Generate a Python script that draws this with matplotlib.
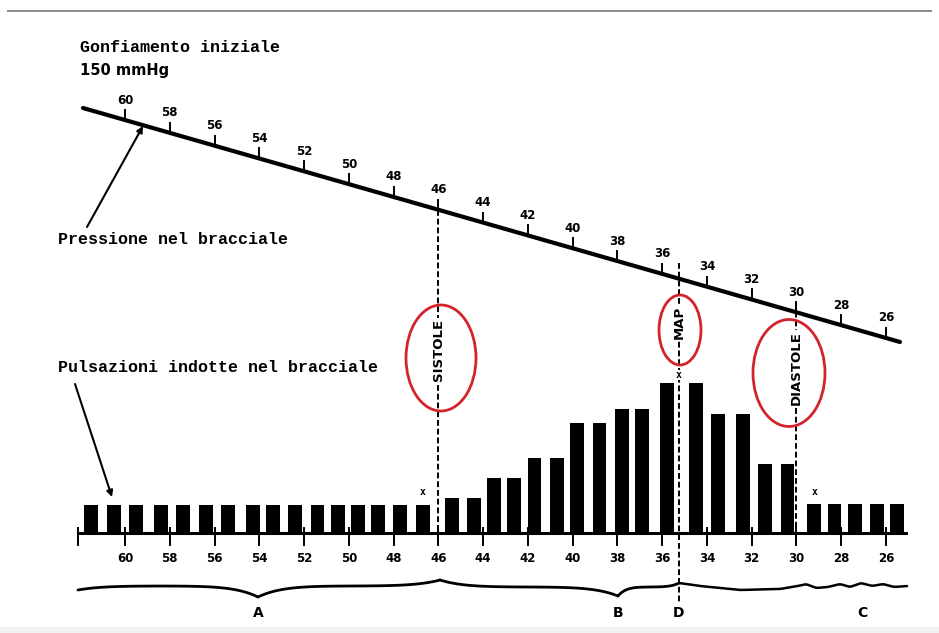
import numpy as np
import matplotlib.pyplot as plt
from matplotlib.patches import Ellipse

# cuff pressure (mmHg) at each pulse and its height
pulse_p = [61.5, 60.5, 59.5, 58.4, 57.4, 56.4, 55.4, 54.3, 53.4, 52.4, 51.4,
           50.5, 49.6, 48.7, 47.7, 46.7, 45.4, 44.4, 43.5, 42.6, 41.7, 40.7,
           39.8, 38.8, 37.8, 36.9, 35.8, 34.5, 33.5, 32.4, 31.4, 30.4, 29.2,
           28.3, 27.4, 26.4, 25.5]
pulse_amp = [28, 28, 28, 28, 28, 28, 28, 28, 28, 28, 28, 28, 28, 28, 28, 28,
             35, 35, 55, 55, 75, 75, 110, 110, 124, 124, 150, 150,
             119, 119, 69, 69, 29, 29, 29, 29, 29]

# scale ticks (same on the cuff line and on the bottom axis)
scale_p = [60, 58, 56, 54, 52, 50, 48, 46, 44, 42, 40, 38, 36, 34, 32, 30, 28, 26]
scale_labels = ['60', '58', '56', '54', '52', '50', '48', '46', '44', '42',
                '40', '38', '36', '34', '32', '30', '28', '26']

systolic = 46
map_p = 35.25
diastolic = 30
marked_p = [46.7, 35.25, 29.2]   # the little "x" marks
marked_h = [41, 158, 41]

W, H = 939, 633
K = 22.38      # pixels per mmHg
X60 = 125      # pixel column of 60 mmHg
BASE = 533     # pixel row of the pulse baseline


def px(x):
    return 60 - (x - X60) / K


def py(y):
    return BASE - y


def cuff_y(p):
    # sloping "pressione nel bracciale" line
    return py(108) - (px(83) - p) * 0.2864 * K


fig = plt.figure(figsize=(W / 100, H / 100), dpi=100)
ax = fig.add_axes([0, 0, 1, 1])
ax.set_xlim(px(0), px(W))
ax.set_ylim(py(H), py(0))
ax.axis('off')

mono = dict(family='Liberation Mono', fontweight='bold', fontsize=12)
num = dict(family='DejaVu Sans', fontweight='bold', fontsize=8.5)

# frame bits of the screenshot
ax.plot([px(8), px(931)], [py(11), py(11)], color='#8a8a8a', lw=1.4)
ax.axhspan(py(H), py(627), color='#f2f2f2', lw=0)

# texts
ax.text(px(80), py(47), 'Gonfiamento iniziale', va='center', ha='left', **mono)
ax.text(px(80), py(71), '150 mmHg', va='center', ha='left',
        family='DejaVu Sans', fontweight='bold', fontsize=10.5)
ax.text(px(58), py(240), 'Pressione nel bracciale', va='center', ha='left', **mono)
ax.text(px(58), py(368), 'Pulsazioni indotte nel bracciale', va='center', ha='left', **mono)

# sloping cuff pressure line
p_a, p_b = px(83), px(900)
ax.plot([p_a, p_b], [cuff_y(p_a), cuff_y(p_b)], color='k', lw=3, solid_capstyle='round')
for p, lab in zip(scale_p, scale_labels):
    y0 = cuff_y(p)
    ax.plot([p, p], [y0, y0 + 10], color='k', lw=1.4)
    ax.text(p, y0 + 20, lab, ha='center', va='center', **num)

arrow = dict(arrowstyle='-|>', color='k', lw=1.5, mutation_scale=9, shrinkA=0, shrinkB=0)
ax.annotate('', xy=(px(143), py(126)), xytext=(px(87), py(227)), arrowprops=arrow)
ax.annotate('', xy=(px(112), py(497)), xytext=(px(75), py(384)), arrowprops=arrow)

# pulses
ax.bar(pulse_p, pulse_amp, width=0.62, color='k', zorder=2)
for p, h in zip(marked_p, marked_h):
    ax.text(p, h, 'x', ha='center', va='center', fontsize=7, fontweight='bold',
            family='DejaVu Sans Mono', zorder=6,
            bbox=dict(facecolor='white', edgecolor='none', pad=0.2))

# bottom axis
ax.plot([px(78), px(906)], [0, 0], color='k', lw=2.2, zorder=3)
for p in [px(78)] + scale_p:
    ax.plot([p, p], [5, -12], color='k', lw=1.4, zorder=3)
for p, lab in zip(scale_p, scale_labels):
    ax.text(p, py(559), lab, ha='center', va='center', **num)

# dashed guide lines
dash = dict(color='k', lw=1.4, ls=(0, (3, 1.5)), zorder=3)
ax.plot([systolic, systolic], [cuff_y(systolic), py(545)], **dash)
ax.plot([map_p, map_p], [cuff_y(map_p) + 16, py(603)], **dash)
ax.plot([diastolic, diastolic], [cuff_y(diastolic) + 9, py(545)], **dash)

lab = dict(rotation=90, ha='center', va='center', family='DejaVu Sans',
           fontweight='bold', fontsize=9.5, zorder=5,
           bbox=dict(facecolor='white', edgecolor='none', pad=0.5))
ax.text(systolic, py(350), 'SISTOLE', **lab)
ax.text(map_p, py(322), 'MAP', **lab)
ax.text(diastolic, py(368), 'DIASTOLE', **lab)

red = '#d3232b'
ax.add_patch(Ellipse((px(441), py(358)), 70 / K, 106, fill=False, ec=red, lw=2, zorder=6))
ax.add_patch(Ellipse((px(680), py(330)), 42 / K, 70, fill=False, ec=red, lw=2, zorder=6))
ax.add_patch(Ellipse((px(789), py(373)), 72 / K, 107, fill=False, ec=red, lw=2, zorder=6))


# curly braces under the axis
def brace_half(x_end, y_end, x_tip, y_tip, y_flat, m=8):
    s = np.linspace(0, 1, 120)
    x = x_end + (x_tip - x_end) * s
    y = y_flat + (y_end - y_flat) * (1 - s) ** m + (y_tip - y_flat) * s ** m
    return px(x), py(y)


halves = [(78, 590, 258, 597, 586), (440, 580, 258, 597, 586),
          (440, 580, 618, 596, 587), (679, 583, 618, 596, 587)]
for h in halves:
    bx, by = brace_half(*h)
    ax.plot(bx, by, color='k', lw=2, solid_capstyle='round')

# wavy tail on the right, smoothed a little
wave_x = np.array([679, 700, 740, 780, 798, 806, 816, 828, 840, 850, 861, 872, 883, 894, 907])
wave_y = np.array([583, 586, 590, 589, 586, 584, 588, 587, 584, 587, 583, 586, 584, 587, 586])
xs = np.linspace(679, 907, 400)
ys = np.interp(xs, wave_x, wave_y)
kern = np.ones(9) / 9
ys_s = np.convolve(np.pad(ys, 4, mode='edge'), kern, mode='valid')
ax.plot(px(xs), py(ys_s), color='k', lw=1.8, solid_capstyle='round')

for x, t in [(258, 'A'), (618, 'B'), (679, 'D'), (862, 'C')]:
    ax.text(px(x), py(613), t, ha='center', va='center', family='DejaVu Sans',
            fontweight='bold', fontsize=10)

fig.savefig('out.png', dpi=100)
